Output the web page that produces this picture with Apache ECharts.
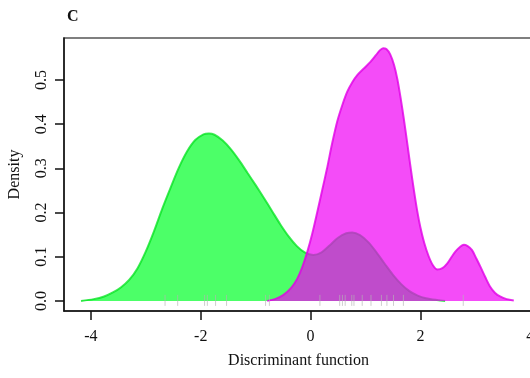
<!DOCTYPE html>
<html>
<head>
<meta charset="utf-8">
<script src="https://cdn.jsdelivr.net/npm/echarts@6/dist/echarts.min.js"></script>
<style>html,body{margin:0;padding:0;background:#fff}#c{width:530px;height:378px}</style>
</head>
<body>
<div id="c"></div>
<script>
// Density of discriminant function, group 1 (green)
var greenX = [-4.18,-3.95,-3.76,-3.6,-3.45,-3.3,-3.15,-3.0,-2.85,-2.7,-2.55,-2.4,-2.25,-2.1,-1.95,-1.85,-1.75,-1.6,-1.45,-1.3,-1.15,-1.0,-0.85,-0.7,-0.55,-0.4,-0.25,-0.1,0.05,0.2,0.35,0.5,0.65,0.76,0.9,1.05,1.2,1.35,1.5,1.65,1.8,1.95,2.1,2.3,2.45];
var greenY = [0.000,0.004,0.010,0.019,0.031,0.048,0.074,0.112,0.158,0.209,0.256,0.301,0.338,0.364,0.377,0.379,0.376,0.363,0.343,0.318,0.290,0.262,0.233,0.203,0.173,0.146,0.124,0.109,0.104,0.110,0.126,0.143,0.153,0.155,0.149,0.133,0.110,0.084,0.059,0.038,0.022,0.012,0.006,0.002,0.000];
// group 2 (magenta)
var magentaX = [-0.79,-0.65,-0.5,-0.35,-0.24,-0.15,-0.06,0.03,0.12,0.21,0.30,0.39,0.485,0.58,0.67,0.76,0.85,0.97,1.09,1.19,1.26,1.32,1.38,1.45,1.52,1.58,1.64,1.70,1.76,1.82,1.88,1.94,2.0,2.07,2.15,2.23,2.31,2.40,2.49,2.57,2.64,2.72,2.79,2.86,2.94,3.01,3.09,3.18,3.27,3.36,3.45,3.57,3.70];
var magentaY = [0.000,0.004,0.013,0.030,0.051,0.077,0.111,0.152,0.200,0.250,0.300,0.355,0.406,0.444,0.474,0.495,0.511,0.526,0.541,0.556,0.567,0.572,0.570,0.558,0.534,0.502,0.459,0.410,0.357,0.303,0.252,0.205,0.166,0.131,0.101,0.080,0.071,0.074,0.085,0.100,0.112,0.122,0.127,0.124,0.115,0.098,0.078,0.054,0.032,0.018,0.010,0.004,0.001];
// rug observations
var rugX = [-2.65,-2.42,-1.93,-1.88,-1.73,-1.53,-0.82,-0.75,0.17,0.53,0.58,0.63,0.75,0.79,0.94,1.10,1.29,1.39,1.51,1.69,2.78];
// tick labels
var xTicks = [-4,-2,0,2,4];
var yTicks = [0,0.1,0.2,0.3,0.4,0.5];

function pairs(xs, ys){ return xs.map(function(x,i){return [x, ys[i]];}); }

var serif = '"Liberation Serif","DejaVu Serif",serif';
var chart = echarts.init(document.getElementById('c'), null, {renderer:'canvas'});
chart.setOption({
  animation:false,
  title:{text:'C', left:62, top:4, textStyle:{fontFamily:serif, fontWeight:'bold', fontSize:16, color:'#111'}},
  grid:{left:64, top:38, right:-3, bottom:67, containLabel:false, outerBoundsMode:'none',
    show:true, borderColor:'#555', borderWidth:1.5, backgroundColor:'transparent'},
  xAxis:{type:'value', min:-4.49, max:4.05,
    name:'Discriminant function', nameLocation:'middle', nameGap:42,
    nameTextStyle:{fontFamily:serif, fontSize:16, color:'#111'},
    axisLine:{show:true, onZero:false, lineStyle:{color:'#111', width:1.5}},
    axisTick:{show:true, customValues:xTicks, length:9, lineStyle:{color:'#111', width:1.5}},
    axisLabel:{customValues:xTicks, fontFamily:serif, fontSize:16, color:'#111', margin:18, hideOverlap:false},
    splitLine:{show:false}},
  yAxis:{type:'value', min:-0.0229, max:0.595,
    name:'Density', nameLocation:'middle', nameGap:41,
    nameTextStyle:{fontFamily:serif, fontSize:16, color:'#111'},
    axisLine:{show:true, onZero:false, lineStyle:{color:'#111', width:1.5}},
    axisTick:{show:true, customValues:yTicks, length:9, lineStyle:{color:'#111', width:1.5}},
    axisLabel:{customValues:yTicks, rotate:90, fontFamily:serif, fontSize:16, color:'#111', margin:14,
      formatter:function(v){return Number(v).toFixed(1);}},
    splitLine:{show:false}},
  series:[
    {type:'line', data:pairs(greenX, greenY), smooth:0.3, showSymbol:false, z:2,
      lineStyle:{color:'rgba(0,225,30,0.75)', width:2},
      areaStyle:{color:'rgba(0,255,40,0.7)', opacity:1}},
    {type:'line', data:pairs(magentaX, magentaY), smooth:0.3, showSymbol:false, z:3,
      lineStyle:{color:'rgba(225,0,230,0.8)', width:2},
      areaStyle:{color:'rgba(240,0,245,0.7)', opacity:1}},
    {type:'custom', z:4, data:rugX.map(function(v){return [v];}),
      renderItem:function(params, api){
        var p = api.coord([api.value(0), 0]);
        return {type:'line', shape:{x1:p[0], y1:p[1]-6, x2:p[0], y2:p[1]+5},
          style:{stroke:'rgba(180,180,180,0.65)', lineWidth:1}};
      }}
  ]
});
</script>
</body>
</html>
